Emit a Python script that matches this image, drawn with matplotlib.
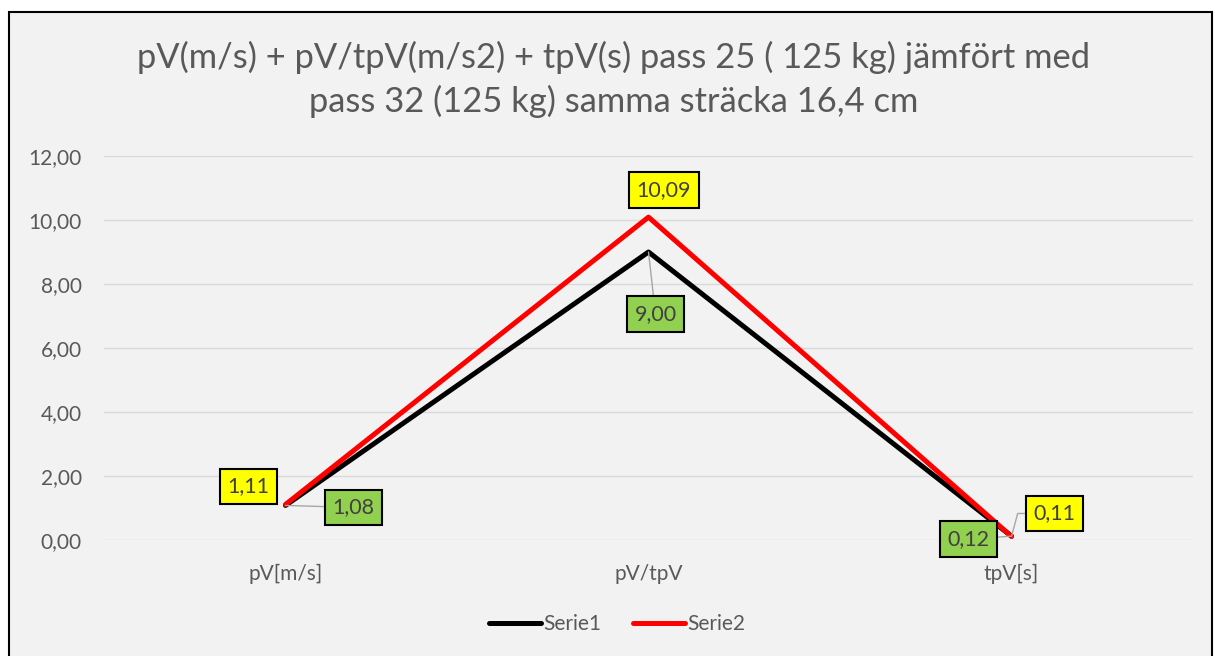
import matplotlib.pyplot as plt
from matplotlib.patches import Rectangle

# data
categories = ["pV[m/s]", "pV/tpV", "tpV[s]"]
serie1 = [1.08, 9.00, 0.12]
serie2 = [1.11, 10.09, 0.11]
y_ticks = [0, 2, 4, 6, 8, 10, 12]

plt.rcParams['font.family'] = ['Lato', 'DejaVu Sans']
txt = "#595959"

fig = plt.figure(figsize=(12.15, 6.56), dpi=100)
fig.patch.set_facecolor("white")
# chart area frame
fig.patches.append(Rectangle((9 / 1215, -0.05), 1203 / 1215, 1 - 12 / 656 + 0.05,
                             transform=fig.transFigure, facecolor="#f2f2f2",
                             edgecolor="black", linewidth=1.5, zorder=-1))

ax = fig.add_axes([104 / 1215, 1 - 540 / 656, 1089 / 1215, 384 / 656])
ax.set_facecolor("#f2f2f2")
x = range(len(categories))
ax.plot(x, serie1, color="black", lw=3.6, solid_capstyle="round", label="Serie1", zorder=3)
ax.plot(x, serie2, color="#ff0000", lw=3.6, solid_capstyle="round", label="Serie2", zorder=4)

ax.set_xlim(-0.5, 2.5)
ax.set_ylim(0, 12)
ax.set_yticks(y_ticks)
ax.set_yticklabels([f"{v:.2f}".replace(".", ",") for v in y_ticks], color=txt, fontsize=15)
ax.set_xticks(list(x))
ax.set_xticklabels(categories, color=txt, fontsize=15)
ax.tick_params(axis="x", length=0, pad=17)
ax.tick_params(axis="y", length=0, pad=16)
ax.grid(axis="y", color="#d9d9d9", lw=1)
ax.set_axisbelow(True)
for s in ax.spines.values():
    s.set_visible(False)

# data labels: (value, index, offset in pixels, colour, leader, connection)
labels = [
    (serie2[0], 0, (-37, 18), "#ffff00", False, None),
    (serie1[0], 0, (68, -2), "#92d050", True, "arc3"),
    (serie2[1], 1, (15, 27), "#ffff00", False, None),
    (serie1[1], 1, (7, -62), "#92d050", True, "arc3"),
    (serie1[2], 2, (-43, -3), "#92d050", True, "arc3"),
    (serie2[2], 2, (43, 23), "#ffff00", True, "angle,angleA=0,angleB=75,rad=0"),
]
for val, i, off, col, lead, conn in labels:
    ap = None
    if lead:
        ap = dict(arrowstyle="-", color="#a6a6a6", lw=1, shrinkA=0, shrinkB=0,
                  connectionstyle=conn)
    ax.annotate(f"{val:.2f}".replace(".", ","), xy=(i, val), xytext=off,
                textcoords="offset pixels", ha="center", va="center",
                fontsize=15.5, color="#404040",
                bbox=dict(boxstyle="square,pad=0.36", fc=col, ec="black", lw=1.5),
                arrowprops=ap, zorder=6)

fig.text(0.505, 1 - 57 / 656,
         "pV(m/s) + pV/tpV(m/s2) + tpV(s) pass 25 ( 125 kg) jämfört med",
         ha="center", va="center", fontsize=24.8, color=txt)
fig.text(0.505, 1 - 101 / 656, "pass 32 (125 kg) samma sträcka 16,4 cm",
         ha="center", va="center", fontsize=24.8, color=txt)

fig.legend(loc="center", bbox_to_anchor=(617 / 1215, 1 - 624 / 656), ncol=2,
           frameon=False, fontsize=15, labelcolor=txt, handlelength=2.5,
           handletextpad=0.1, columnspacing=1.5)

fig.savefig("out.png", dpi=100, facecolor="white")
